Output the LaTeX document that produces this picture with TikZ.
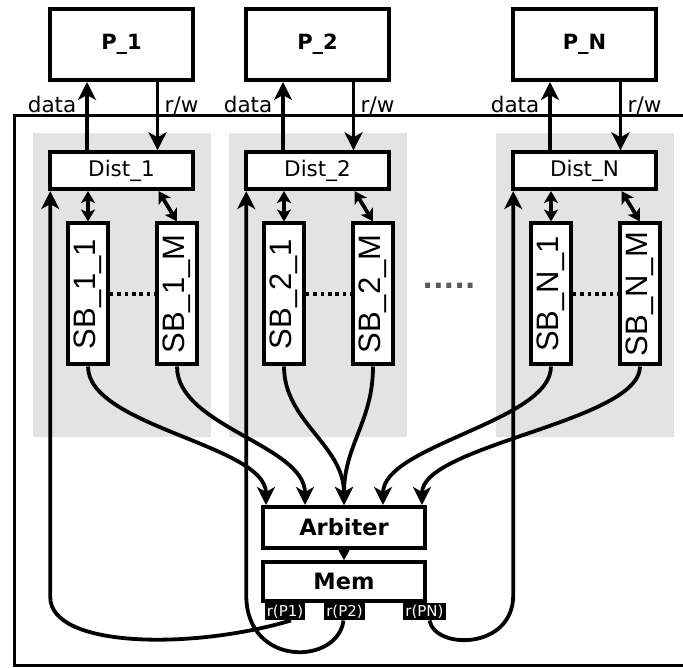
\documentclass[tikz,border=0pt]{standalone}
\usepackage{fontspec}
\usepackage{graphicx}
\setmainfont{DejaVu Sans}
\newfontfamily\sbfont{Liberation Sans}
\usetikzlibrary{arrows.meta,calc}
\definecolor{panelgray}{RGB}{227,227,227}
\definecolor{dotgray}{RGB}{90,90,90}
\begin{document}
\begin{tikzpicture}[x=1pt,y=-1pt,
  box/.style={draw, line width=4pt, fill=white, inner sep=0pt},
  procbox/.style={box, minimum width=142.5pt, minimum height=71pt, font=\fontsize{21}{25}\selectfont\bfseries},
  distbox/.style={box, minimum width=142.5pt, minimum height=36.7pt, font=\fontsize{21.5}{25}\selectfont},
  sbbox/.style={box, minimum width=39.5pt, minimum height=141pt, font=\sbfont\fontsize{31}{34}\selectfont},
  corebox/.style={box, minimum width=162pt, font=\fontsize{22.5}{26}\selectfont\bfseries},
  conn/.style={line width=3.8pt},
  tipbig/.style={-{Stealth[length=18pt,width=18pt,inset=5pt]}},
  tipmid/.style={-{Stealth[length=14pt,width=15pt,inset=2pt]}},
  tipbi/.style={{Stealth[length=12pt,width=14pt,inset=3pt]}-{Stealth[length=12pt,width=14pt,inset=3pt]}},
  dotline/.style={line width=3.6pt, dash pattern=on 3.6pt off 3.8pt},
  rlabel/.style={fill=black, text=white, inner xsep=2pt, inner ysep=0pt, minimum height=17.5pt, font=\fontsize{15}{17}\selectfont},
  sidelabel/.style={inner sep=0pt, font=\fontsize{21.5}{25}\selectfont},
  frameline/.style={line width=3pt}
]
\useasboundingbox (0,0) rectangle (683,668);
\clip (0,0) rectangle (683,668);

% outer frame
\draw[frameline] (690,115.5) -- (14.3,115.5) -- (14.3,665.5) -- (690,665.5);

% gray panels
\foreach \cx in {121.5,317.5,584.5}{
  \fill[panelgray] (\cx-88.5,133) rectangle (\cx+89.5,437);
}

\foreach \i/\cx in {1/121.5, 2/317.5, N/584.5}{
  \node[procbox] (p\i) at (\cx,44.5) {P\_\i};
  \node[distbox] (d\i) at (\cx,170.7) {Dist\_\i};
  \node[sbbox] (sbA\i) at (\cx-33.5,294) {\rotatebox{90}{SB\_\i\_1}};
  \node[sbbox] (sbB\i) at (\cx+55.5,294) {\rotatebox{90}{SB\_\i\_M}};
  \coordinate (fb\i) at ($(d\i.south west)+(2,0)$);
  \draw[conn,tipbig] ($(d\i.north)+(-34.5,0)$) -- ($(p\i.south)+(-34.5,0)$);
  \draw[conn,tipbig] ($(p\i.south)+(36,0)$) -- ($(d\i.north)+(36,0)$);
  \node[sidelabel, anchor=base east] (data\i) at ($(p\i.south)+(-45,31)$) {data};
  \node[sidelabel, anchor=base west] (rw\i) at ($(p\i.south)+(43,31)$) {r/w};
  \draw[conn,tipbi] (sbA\i.north |- d\i.south) -- (sbA\i.north);
  \draw[conn,tipbi] ($(d\i.south)+(37,0)$) -- (sbB\i.north);
  \draw[dotline] (sbA\i.east) -- (sbB\i.west);
}

\node[anchor=base, font=\fontsize{28}{32}\selectfont\bfseries, text=dotgray] (dots) at (449,289) {.....};

\node[corebox, minimum height=41pt] (arb) at (344,527.5) {Arbiter};
\node[corebox, minimum height=38.5pt] (mem) at (344,581.5) {Mem};
\draw[conn,tipmid] (arb.south) -- (mem.north);

\node[rlabel] (r1) at (285,611.5) {r(P1)};
\node[rlabel] (r2) at (344.5,611.5) {r(P2)};
\node[rlabel] (rN) at (424.5,611.5) {r(PN)};

% SB -> Arbiter
\draw[conn,tipbig] (sbA1.south) .. controls +(0,60) and +(0,-60) .. ($(arb.north)+(-78,0)$);
\draw[conn,tipbig] (sbB1.south) .. controls +(0,60) and +(0,-60) .. ($(arb.north)+(-39,0)$);
\draw[conn,tipbig] (sbA2.south) .. controls +(0,55) and +(0,-60) .. (arb.north);
\draw[conn,tipbig] (sbB2.south) .. controls +(0,55) and +(0,-60) .. (arb.north);
\draw[conn,tipbig] (sbAN.south) .. controls +(0,55) and +(0,-60) .. ($(arb.north)+(39,0)$);
\draw[conn,tipbig] (sbBN.south) .. controls +(0,55) and +(0,-60) .. ($(arb.north)+(78,0)$);

% read-back loops
\draw[conn,tipbig] ($(r1.south)+(6,0)$) .. controls (192,650) and (fb1 |- 0,648) .. (fb1 |- 0,597) -- (fb1);
\draw[conn,tipbig] ($(r2.south)+(-1,0)$) .. controls (338,665) and (fb2 |- 0,668) .. (fb2 |- 0,595) -- (fb2);
\draw[conn,tipbig] ($(rN.south)+(5,0)$) .. controls (435,650) and (fbN |- 0,650) .. (fbN |- 0,595) -- (fbN);
\end{tikzpicture}
\end{document}
